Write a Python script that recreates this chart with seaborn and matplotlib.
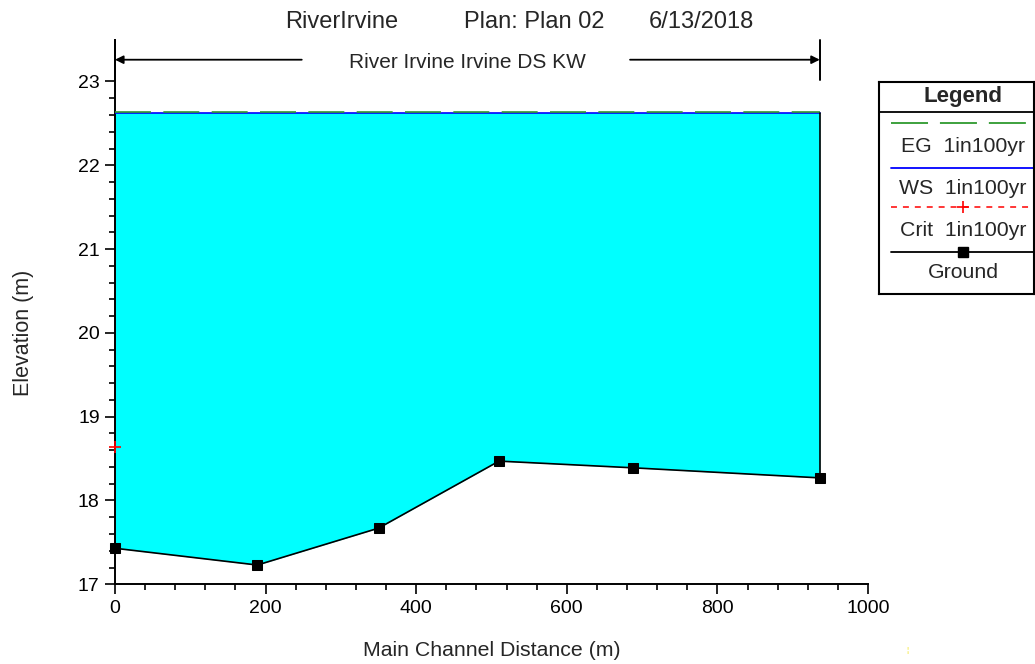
import numpy as np
import pandas as pd
import seaborn as sns
import matplotlib
matplotlib.use("Agg")
import matplotlib.pyplot as plt
from matplotlib.ticker import FixedLocator, MultipleLocator

# ---------------- data ----------------
stations = [0, 189, 350, 510, 688, 936]            # main channel distance (m)
ground = [17.43, 17.23, 17.67, 18.47, 18.39, 18.27]  # ground elevation (m)
ws_elev = 22.63      # WS 1in100yr
eg_elev = 22.635     # EG 1in100yr
crit_station = [0]
crit_elev = [18.64]  # Crit 1in100yr
title_parts = ["RiverIrvine", "Plan: Plan 02", "6/13/2018"]
reach_label = "River Irvine Irvine DS KW"
legend_labels = ["EG  1in100yr", "WS  1in100yr", "Crit  1in100yr", "Ground"]
xticks = [0, 200, 400, 600, 800, 1000]
yticks = [17, 18, 19, 20, 21, 22, 23]

sns.set_style("white")
plt.rcParams['font.family'] = ['Liberation Sans', 'DejaVu Sans']

W, H = 1035, 664
fig = plt.figure(figsize=(W / 100, H / 100), dpi=100)
ax = fig.add_axes([115 / W, 1 - 584.3 / H, (868 - 115) / W, (584.3 - 39.6) / H])

df = pd.DataFrame({"station": stations, "ground": ground})
ws = np.full(len(stations), ws_elev)
eg = np.full(len(stations), eg_elev)

# water fill
ax.fill_between(stations, ground, ws, color="#00FFFF", lw=0, zorder=1)
# WS (blue solid) then EG (green dashed) on top
sns.lineplot(x=stations, y=ws, ax=ax, color="#0000FF", lw=1.2, zorder=3)
sns.lineplot(x=stations, y=eg, ax=ax, color="#2E9A2E", lw=1.2, zorder=4)
ax.lines[-1].set_dashes([21.6, 7.4])
# right end vertical
ax.plot([stations[-1], stations[-1]], [ground[-1], ws_elev], color="black", lw=1.2, zorder=4)
# ground
sns.lineplot(data=df, x="station", y="ground", ax=ax, color="black", lw=1.2,
             marker="s", markersize=7.3, markeredgecolor="black", zorder=5, clip_on=False)
# crit
ax.plot(crit_station, crit_elev, ls="none", marker="+", color="red", markersize=8,
        mew=1.2, zorder=6, clip_on=False)

ax.xaxis.set_major_locator(FixedLocator(xticks))
ax.xaxis.set_minor_locator(MultipleLocator(40))
ax.yaxis.set_major_locator(FixedLocator(yticks))
ax.yaxis.set_minor_locator(FixedLocator(np.arange(17, 23.01, 0.2)))
ax.tick_params(axis="both", which="major", direction="out", length=7, width=1.2,
               labelsize=14, colors="black", pad=4)
ax.tick_params(axis="both", which="minor", direction="out", length=4, width=1.2, colors="black")
ax.tick_params(axis="x", which="both", bottom=True)
ax.tick_params(axis="y", which="both", left=True)
for s in ["top", "right"]:
    ax.spines[s].set_visible(False)
for s in ["left", "bottom"]:
    ax.spines[s].set_color("black")
    ax.spines[s].set_linewidth(1.4)
ax.set_xlabel("Main Channel Distance (m)", fontsize=15.3)
ax.set_ylabel("Elevation (m)", fontsize=15.5)
ax.xaxis.set_label_coords(0.5, -0.105)
ax.yaxis.set_label_coords(-0.108, 0.4615)

# reach bracket
x0, x1 = stations[0], stations[-1]
ax.plot([x1, x1], [23.02, 23.5], color="black", lw=1.4, clip_on=False)
ax.plot([x0, x0], [23.02, 23.5], color="black", lw=1.4, clip_on=False)
ax.annotate("", xy=(x0, 23.26), xytext=(248, 23.26),
            arrowprops=dict(arrowstyle="-|>", color="black", lw=1.3, mutation_scale=12,
                            shrinkA=0, shrinkB=0), annotation_clip=False)
ax.annotate("", xy=(x1, 23.26), xytext=(684, 23.26),
            arrowprops=dict(arrowstyle="-|>", color="black", lw=1.3, mutation_scale=12,
                            shrinkA=0, shrinkB=0), annotation_clip=False)
ax.text((x0 + x1) / 2, 23.23, reach_label, ha="center", va="center", fontsize=15)
ax.set_xlim(0, 1000)
ax.set_ylim(17, 23.5)

# title
fig.text(342 / W, 1 - 22 / H, title_parts[0], ha="center", va="center", fontsize=17)
fig.text(534 / W, 1 - 22 / H, title_parts[1], ha="center", va="center", fontsize=17)
fig.text(701 / W, 1 - 22 / H, title_parts[2], ha="center", va="center", fontsize=17)

# legend box
lx0, lx1, ly0, ly1 = 879, 1034, 81.7, 294
lax = fig.add_axes([lx0 / W, 1 - ly1 / H, (lx1 - lx0) / W, (ly1 - ly0) / H])
lax.set_xticks([]); lax.set_yticks([])
for s in lax.spines.values():
    s.set_color("black"); s.set_linewidth(1.5); s.set_visible(True)
lcx = 963
lax.text(lcx, 96.5, "Legend", ha="center", va="center", fontsize=16, fontweight="bold")
lax.plot([lx0, lx1], [112, 112], color="black", lw=1.3)
lax.plot([890.7, 1033], [123.3, 123.3], color="#2E9A2E", lw=1.3, dashes=[20.5, 6.6])
lax.text(lcx, 147, legend_labels[0], ha="center", va="center", fontsize=15.3)
lax.plot([890.7, 1034], [168.3, 168.3], color="#0000FF", lw=1.3)
lax.text(lcx, 188.5, legend_labels[1], ha="center", va="center", fontsize=15.3)
lax.plot([890.7, 1034], [206.7, 206.7], color="red", lw=1.1, dashes=[3.9, 3.9])
lax.plot([lcx], [206.7], marker="+", color="red", markersize=8, mew=1.2)
lax.text(lcx, 230, legend_labels[2], ha="center", va="center", fontsize=15.3)
lax.plot([890.7, 1034], [252.3, 252.3], color="black", lw=1.3)
lax.plot([lcx], [252.3], marker="s", color="black", markersize=7.3)
lax.text(lcx, 272.5, legend_labels[3], ha="center", va="center", fontsize=15.3)
lax.set_xlim(lx0, lx1)
lax.set_ylim(ly1, ly0)

fig.text(907 / W, 1 - 651 / H, "¦", color="#F0E000", fontsize=6, ha="center", va="center")

fig.savefig("out.png", dpi=100)
